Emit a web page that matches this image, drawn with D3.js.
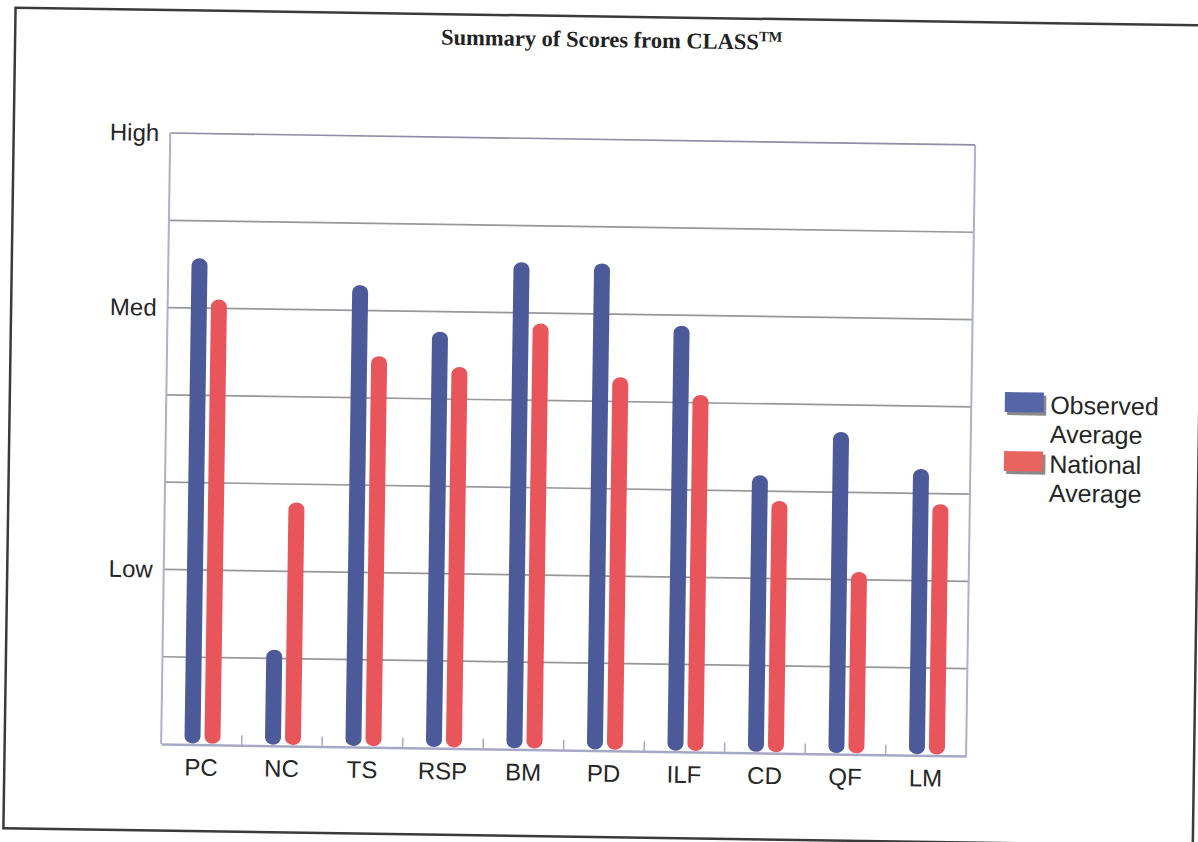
<!DOCTYPE html>
<html>
<head>
<meta charset="utf-8">
<script src="https://cdn.jsdelivr.net/npm/d3@7"></script>
<style>
  html, body { margin: 0; padding: 0; background: #ffffff; }
  svg { display: block; }
</style>
</head>
<body>
<script>
// ---- data ----
const categories = ["PC", "NC", "TS", "RSP", "BM", "PD", "ILF", "CD", "QF", "LM"];
const observedAverage = [5.57, 1.10, 5.29, 4.77, 5.58, 5.58, 4.88, 3.18, 3.69, 3.28];
const nationalAverage = [5.10, 2.79, 4.48, 4.37, 4.88, 4.28, 4.09, 2.89, 2.09, 2.88];
const yTickValues = [2, 5, 7];
const yTickLabels = ["Low", "Med", "High"];
const seriesNames = ["Observed Average", "National Average"];
const titleText = "Summary of Scores from CLASS";
const titleSup = "TM";

// ---- layout ----
const W = 1198, H = 842;
const plot = { left: 166, right: 971, top: 139.4, bottom: 750.5 };
const colors = { obs: "#4c5a99", nat: "#e8555b", obsLeg: "#5566a6", natLeg: "#e8645f" };

const svg = d3.select("body").append("svg").attr("width", W).attr("height", H);
svg.append("rect").attr("width", W).attr("height", H).attr("fill", "#ffffff");

const root = svg.append("g").attr("transform", "rotate(0.85, 599, 421)");

// outer page border
root.append("rect")
  .attr("x", 9.5).attr("y", 16.5).attr("width", 1189.5).attr("height", 820.5)
  .attr("fill", "none").attr("stroke", "#3a3a3a").attr("stroke-width", 2.5);

// title
const title = root.append("text")
  .attr("x", 606).attr("y", 47)
  .attr("text-anchor", "middle")
  .attr("font-family", "'Liberation Serif', 'Times New Roman', serif")
  .attr("font-weight", "bold").attr("font-size", 22.5).attr("fill", "#222");
title.append("tspan").text(titleText);
title.append("tspan").attr("font-size", 14.5).attr("dy", -8).text(titleSup);

// scales
const x = d3.scaleBand().domain(categories).range([plot.left, plot.right]).padding(0);
const y = d3.scaleLinear().domain([0, 7]).range([plot.bottom, plot.top]);

// gridlines
const grid = root.append("g");
grid.selectAll("line").data(d3.range(1, 8)).join("line")
  .attr("x1", plot.left).attr("x2", plot.right)
  .attr("y1", d => y(d)).attr("y2", d => y(d))
  .attr("stroke", d => d === 7 ? "#8e8ea6" : "#98989c").attr("stroke-width", 1.7);

// frame verticals
root.append("line").attr("x1", plot.left).attr("x2", plot.left)
  .attr("y1", plot.top).attr("y2", plot.bottom)
  .attr("stroke", "#aeb0cc").attr("stroke-width", 2);
root.append("line").attr("x1", plot.right).attr("x2", plot.right)
  .attr("y1", plot.top).attr("y2", plot.bottom)
  .attr("stroke", "#aeb0cc").attr("stroke-width", 2);

// x axis
const xAxis = d3.axisBottom(x).tickSize(0).tickPadding(14);
const xg = root.append("g").attr("transform", `translate(0,${plot.bottom})`).call(xAxis);
xg.select(".domain").attr("stroke", "#a6a9c6").attr("stroke-width", 2.5);
xg.selectAll("text")
  .attr("font-family", "'Liberation Sans', Arial, sans-serif")
  .attr("font-size", 24).attr("fill", "#262626");

// inner boundary ticks (pointing up)
const bounds = categories.slice(1).map(c => x(c));
root.append("g").selectAll("line").data(bounds).join("line")
  .attr("x1", d => d).attr("x2", d => d)
  .attr("y1", plot.bottom).attr("y2", plot.bottom - 10)
  .attr("stroke", "#a6a9c6").attr("stroke-width", 1.5);

// y axis labels
const yAxis = d3.axisLeft(y).tickValues(yTickValues)
  .tickFormat((d, i) => yTickLabels[i]).tickSize(0).tickPadding(11);
const yg = root.append("g").attr("transform", `translate(${plot.left},0)`).call(yAxis);
yg.select(".domain").remove();
yg.selectAll("text")
  .attr("font-family", "'Liberation Sans', Arial, sans-serif")
  .attr("font-size", 24).attr("fill", "#262626");

// bars
const barW = 16;
const bw = x.bandwidth();
const barsData = [];
categories.forEach((c, i) => {
  barsData.push({ c, v: observedAverage[i], cx: x(c) + bw / 2 + 1 - 10, col: colors.obs });
  barsData.push({ c, v: nationalAverage[i], cx: x(c) + bw / 2 + 1 + 10, col: colors.nat });
});
root.append("g").selectAll("rect").data(barsData).join("rect")
  .attr("x", d => d.cx - barW / 2)
  .attr("width", barW)
  .attr("y", d => y(d.v))
  .attr("height", d => y(0) - y(d.v) - 1)
  .attr("rx", barW / 2).attr("ry", 7)
  .attr("fill", d => d.col);

// legend
const legend = root.append("g").attr("font-family", "'Liberation Sans', Arial, sans-serif")
  .attr("font-size", 25).attr("fill", "#262626");
const legItems = [
  { name: seriesNames[0], col: colors.obsLeg, y: 386 },
  { name: seriesNames[1], col: colors.natLeg, y: 445 }
];
legItems.forEach(it => {
  legend.append("rect").attr("x", 1007).attr("y", it.y + 3).attr("width", 39).attr("height", 20).attr("fill", "#8a8a8a");
  legend.append("rect").attr("x", 1004.5).attr("y", it.y).attr("width", 39).attr("height", 20).attr("fill", it.col);
  const words = it.name.split(" ");
  const t = legend.append("text").attr("x", 1050).attr("y", it.y + 21);
  t.append("tspan").attr("x", 1050).text(words[0]);
  t.append("tspan").attr("x", 1050).attr("dy", 29).text(words[1]);
});
</script>
</body>
</html>
